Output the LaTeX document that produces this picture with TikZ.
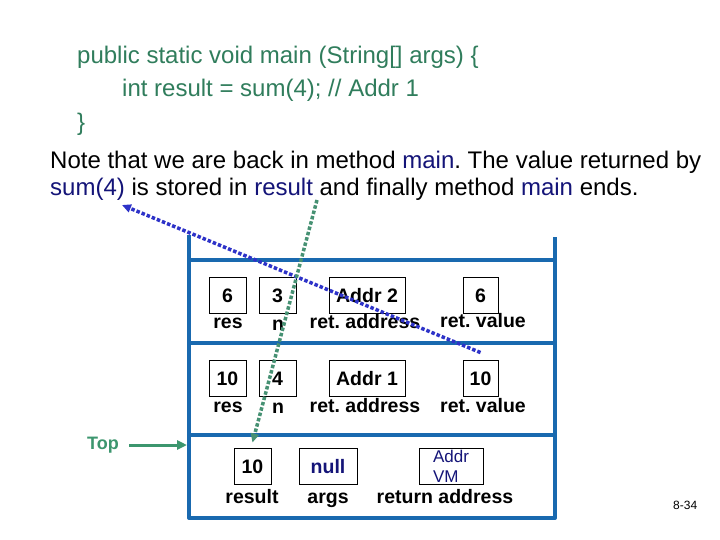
\documentclass[tikz,border=0pt]{standalone}
\usepackage{fontspec}
\setmainfont{Liberation Sans}
\usetikzlibrary{arrows.meta}
\frenchspacing
\definecolor{codegreen}{RGB}{48,125,92}
\definecolor{topgreen}{RGB}{60,150,110}
\definecolor{dotgreen}{RGB}{70,145,115}
\definecolor{navytext}{RGB}{20,20,120}
\definecolor{framebl}{RGB}{25,105,175}
\definecolor{dotblue}{RGB}{45,50,200}
\begin{document}
\begin{tikzpicture}[x=1pt,y=-1pt,
  bigtxt/.style={inner sep=0pt, anchor=base west, font=\fontsize{24}{28}\selectfont},
  cell/.style={draw=black, line width=0.9pt, minimum width=#1, minimum height=36pt,
    inner sep=0pt, text height=14pt, text depth=0pt, font=\fontsize{19.5}{22}\selectfont\bfseries},
  lbl/.style={inner sep=0pt, anchor=base, font=\fontsize{19.5}{22}\selectfont\bfseries},
  frameline/.style={draw=framebl, line width=4pt, line join=round},
  bluedots/.style={draw=dotblue, line width=3.5pt, dash pattern=on 3.5pt off 2pt},
  greendots/.style={draw=dotgreen, line width=3.5pt, dash pattern=on 3.5pt off 2pt},
  tipblue/.style={-{Triangle[length=9pt,width=8pt,fill=dotblue]}},
  tipgreen/.style={-{Triangle[length=9pt,width=8pt,fill=dotgreen]}}
]
\useasboundingbox (0,0) rectangle (720,540);
\fill[white] (0,0) rectangle (720,540);

% code
\node[bigtxt, text=codegreen] (code1) at (77,64) {public static void main (String[] args) \{};
\node[bigtxt, text=codegreen] (code2) at (122,97) {int result = sum(4); // Addr 1};
\node[bigtxt, text=codegreen] (code3) at (77,131) {\}};

% note
\node[bigtxt] (note1) at (50,169) {Note that we are back in method \textcolor{navytext}{main}. The value returned by};
\node[bigtxt] (note2) at (50,196) {\textcolor{navytext}{sum(4)} is stored in \textcolor{navytext}{result} and finally method \textcolor{navytext}{main} ends.};
\coordinate (sumtip) at (122,205);
\coordinate (resfoot) at (317,200);

% stack frame
\draw[frameline] (189,235) -- (189,518) -- (555,518) -- (555,237);
\draw[frameline] (189,260) -- (555,260);
\draw[frameline] (189,343) -- (555,343);
\draw[frameline] (189,435) -- (555,435);

% frame 1
\node[cell=37pt] (res1) at (227.5,295) {6};
\node[cell=37pt] (n1) at (277.5,295) {3};
\node[cell=76pt] (a1) at (367,295) {Addr 2};
\node[cell=35pt] (v1) at (480.5,295) {6};
\node[lbl] (lres1) at (228,328) {res};
\node[lbl] (ln1) at (278,330) {n};
\node[lbl] (la1) at (365,328) {ret. address};
\node[lbl] (lv1) at (483,327) {ret. value};

% frame 2
\node[cell=37pt] (res2) at (227.5,378) {10};
\node[cell=37pt] (n2) at (277.5,378) {4};
\node[cell=76pt] (a2) at (367,378) {Addr 1};
\node[cell=35pt] (v2) at (480.5,378) {10};
\node[lbl] (lres2) at (228,412) {res};
\node[lbl] (ln2) at (278,413) {n};
\node[lbl] (la2) at (365,412) {ret. address};
\node[lbl] (lv2) at (483,412) {ret. value};

% frame 3
\node[cell=37pt] (res3) at (252.5,466) {10};
\node[cell=58pt, text=navytext] (args3) at (328,466) {null};
\node[draw=black, line width=0.9pt, minimum width=64pt, minimum height=36pt, inner sep=0pt,
  align=left, text=navytext, font=\fontsize{17}{20}\selectfont] (avm) at (451,466) {Addr\\VM};
\node[lbl] (lres3) at (252,503) {result};
\node[lbl] (largs3) at (328,503) {args};
\node[lbl] (lavm) at (445,503) {return address};

% Top marker
\node[lbl, text=topgreen, font=\fontsize{18}{22}\selectfont\bfseries] (top) at (103,449) {Top};
\coordinate (topend) at (187,445);
\draw[draw=topgreen, line width=3pt, -{Triangle[length=10pt,width=9pt]}] (129,445) -- (topend);

% dotted connectors
\draw[bluedots, tipblue] ([yshift=7pt]v2.north) -- (sumtip);
\draw[greendots, tipgreen] (resfoot) -- ([yshift=5pt]res3.north);

% page number
\node[inner sep=0pt, anchor=base west, font=\fontsize{12}{14}\selectfont] (pg) at (673,509) {8-34};
\end{tikzpicture}
\end{document}
